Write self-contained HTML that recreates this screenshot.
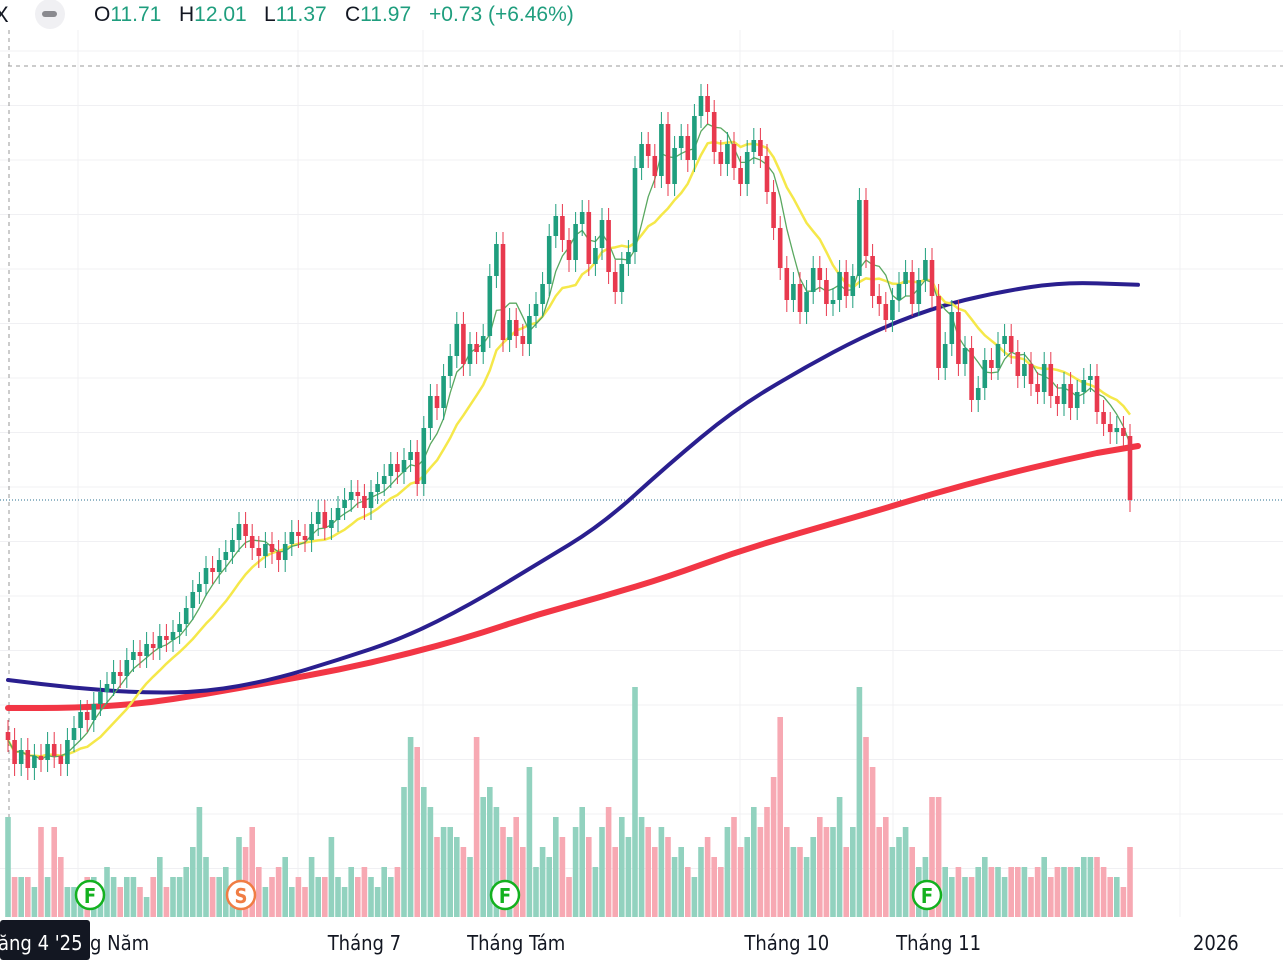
<!DOCTYPE html>
<html><head><meta charset="utf-8"><style>
html,body{margin:0;padding:0;background:#fff;}
#wrap{position:relative;width:1283px;height:976px;overflow:hidden;font-family:"Liberation Sans",sans-serif;}
svg{position:absolute;left:0;top:0;}
</style></head><body>
<div id="wrap">
<svg id="chart" width="1283" height="976"></svg>
</div>
<script>
const closes=[5.9,5.3,5.65,5.2,5.5,5.4,5.8,5.5,5.3,5.9,
6.2,6.6,6.4,6.8,7.1,7.3,7.6,7.5,7.9,8.1,
8.0,8.3,8.2,8.5,8.4,8.6,8.8,9.2,9.6,9.8,
10.2,10.1,10.4,10.6,10.9,11.3,11.0,10.7,10.5,10.8,
10.6,10.4,10.8,11.1,11.0,10.9,11.3,11.6,11.2,11.4,
11.7,11.9,12.1,12.0,11.7,12.1,12.3,12.5,12.8,12.6,
12.9,13.1,12.3,13.7,14.5,14.2,15.0,15.5,16.3,15.3,
15.8,15.6,16.0,17.5,18.3,15.9,16.4,16.0,15.8,16.5,
16.8,17.3,18.5,19.0,18.4,17.9,18.8,19.1,17.8,18.2,
18.9,17.6,17.1,17.8,18.1,20.2,20.8,20.5,20.0,21.3,
19.8,20.7,21.0,20.4,21.5,22.0,21.6,20.6,20.3,20.8,
20.2,19.8,20.6,20.9,20.5,19.6,18.7,17.7,16.9,17.3,
16.6,17.1,17.7,17.4,16.8,16.9,17.6,17.0,17.5,19.4,
18.0,17.0,16.8,16.4,16.9,17.3,17.6,16.8,17.4,17.9,
17.0,15.2,15.8,16.6,15.3,15.7,14.4,14.7,15.4,15.2,
15.8,16.0,15.6,15.0,15.3,14.8,14.6,15.3,14.5,14.3,
14.8,14.2,14.6,14.9,15.0,14.1,13.8,13.6,13.7,13.5,
11.9];
const volumes=[10,4,4,4,3,9,4,9,6,3,
3,3,4,4,3,5,4,3,4,4,
3,2,4,6,3,4,4,5,7,11,
6,4,4,5,3,8,7,9,5,3,
4,5,6,3,4,3,6,4,4,8,
4,3,5,4,5,4,3,5,4,5,
13,18,17,13,11,8,9,9,8,7,
6,18,12,13,11,9,8,10,7,15,
5,7,6,10,8,4,9,11,8,5,
9,11,7,10,8,23,10,9,7,9,
8,6,7,5,4,7,8,6,5,9,
10,7,8,11,9,11,14,20,9,7,
7,6,8,10,9,9,12,7,9,23,
18,15,9,10,7,8,9,7,5,6,
12,12,5,4,5,4,4,5,6,5,
5,4,5,5,5,4,5,6,4,5,
5,5,5,6,6,6,5,4,4,3,7];
// long moving averages sampled every 10 candles
const ma100=[7.4,7.2,7.08,7.1,7.4,7.9,8.45,9.28,10.28,11.28,12.78,14.15,15.15,16.03,16.7,17.1,17.35,17.28];
const ma200=[6.7,6.7,6.8,7.05,7.35,7.65,8.03,8.48,9.03,9.48,9.98,10.58,11.08,11.55,12.05,12.5,12.9,13.25];
const xLabels=["ăng 4 '25","g Năm","Tháng 7","Tháng Tám","Tháng 10","Tháng 11","2026"];
const xLabelIdx=[-2,14,54,77,118,141,183];

const NS="http://www.w3.org/2000/svg";
const svg=document.getElementById('chart');
const N=closes.length;
const x=i=>8+i*(1130-8)/(N-1);
const y=p=>976-40*p;
const vy=v=>917-v*10;
function el(t,a,parent){const e=document.createElementNS(NS,t);for(const k in a)e.setAttribute(k,a[k]);(parent||svg).appendChild(e);return e;}

// grid
for(let k=0;k<16;k++){const g=el('line',{x1:0,x2:1283,y1:51+54.5*k,y2:51+54.5*k,stroke:'#f0f0f3','stroke-width':1});

}
[78,298,423,740,893,1180].forEach(gx=>{const g=el('line',{x1:gx,x2:gx,y1:30,y2:917,stroke:'#f0f0f3'});

});
const hl=el('line',{x1:8,x2:1283,y1:66,y2:66,stroke:'#999','stroke-dasharray':'4 4'});


const vl=el('line',{x1:9,x2:9,y1:30,y2:917,stroke:'#999','stroke-dasharray':'4 4'});


const pl=el('line',{x1:0,x2:1283,y1:y(closes[N-1]),y2:y(closes[N-1]),stroke:'#2a6f8f','stroke-dasharray':'1 2'});



// volume
for(let i=0;i<N;i++){const o=i?closes[i-1]:closes[0];const up=closes[i]>=o;
const r=el('rect',{x:x(i)-2.8,y:vy(volumes[i]),width:5.6,height:917-vy(volumes[i]),fill:up?'#92d2bf':'#f7a9b3'});

}

// MAs
function sma(n){return closes.map((c,i)=>{const s=Math.max(0,i-n+1);let t=0;for(let j=s;j<=i;j++)t+=closes[j];return t/(i-s+1);});}
function line(vals,color,w,name){const d=vals.map((v,k)=>(k?'L':'M')+x(k)+','+y(v)).join(' ');
const p=el('path',{d:d,fill:'none',stroke:color,'stroke-width':w,'stroke-linejoin':'round'});

}
function smoothLine(vals,color,w,name){let d='M'+x(0)+','+y(vals[0]);
for(let k=1;k<vals.length;k++){const cx=(x((k-1)*10)+x(k*10))/2;d+=' Q'+x((k-1)*10)+','+y(vals[k-1])+' '+cx+','+(y(vals[k-1])+y(vals[k]))/2;}
d+=' L'+(x((vals.length-1)*10)+8)+','+y(vals[vals.length-1]);
const p=el('path',{d:d,fill:'none',stroke:color,'stroke-width':w,'stroke-linecap':'round'});

}
smoothLine(ma200,'#f23645',6,'ma200-line');
smoothLine(ma100,'#2a1f8f',4,'ma100-line');
line(sma(12),'#f5e84a',2.5,'ma20-line');
line(sma(5),'#5aa860',1.3,'ma5-line');

// candles
for(let i=0;i<N;i++){const o=i?closes[i-1]:closes[0]+0.2;const c=closes[i];const up=c>=o;const col=up?'#1f9e7e':'#e8394e';
const hi=Math.max(o,c)+0.3,lo=Math.min(o,c)-0.3;
const g=el('g',{});


el('line',{x1:x(i),x2:x(i),y1:y(hi),y2:y(lo),stroke:col,'stroke-width':1},g);
el('rect',{x:x(i)-2.3,y:y(Math.max(o,c)),width:4.6,height:Math.max(1,Math.abs(y(o)-y(c))),fill:col},g);}

// event markers
[[90,'F','#13b11f'],[241,'S','#f07d44'],[505,'F','#13b11f'],[927,'F','#13b11f']].forEach(m=>{
const g=el('g',{});


el('circle',{cx:m[0],cy:895,r:14,fill:'#fff',stroke:m[2],'stroke-width':2.5},g);
const t=el('text',{x:m[0],y:903,'text-anchor':'middle','font-size':20,'font-weight':'bold',fill:m[2],'font-family':'DejaVu Sans Condensed, Liberation Sans, sans-serif'},g);t.textContent=m[1];});

// x axis
el('rect',{x:0,y:917,width:1283,height:59,fill:'#fff'});
xLabels.forEach((s,k)=>{const t=el('text',{x:k===0?-2:x(xLabelIdx[k]),y:950,'text-anchor':k<2?'start':'middle','font-size':20,fill:k===0?'#fff':'#131722','font-family':'DejaVu Sans Condensed, Liberation Sans, sans-serif'});
if(k===0){const b=el('rect',{x:0,y:920,width:90,height:40,rx:3,fill:'#131722'});svg.appendChild(t);}
if(k===1)t.setAttribute('x',90);


t.textContent=s;});

// legend
const lg=el('g',{});


const xt=el('text',{x:-6,y:22,'font-size':22,fill:'#131722'},lg);xt.textContent='X';
const tg=el('g',{},lg);


el('circle',{cx:50,cy:14,r:15,fill:'#f0f0f3'},tg);
el('rect',{x:42,y:11,width:15,height:6,rx:3,fill:'#8a8a8f'},tg);
const parts=[['O','11.71',94],['H','12.01',179],['L','11.37',264],['C','11.97',345]];
parts.forEach(p=>{const t=el('text',{x:p[2],y:21,'font-size':21},lg);const a=el('tspan',{fill:'#131722'},t);a.textContent=p[0];const b=el('tspan',{fill:'#1f9e7e'},t);b.textContent=p[1];});
const ch=el('text',{x:429,y:21,'font-size':21,fill:'#1f9e7e'},lg);ch.textContent='+0.73 (+6.46%)';
</script>
</body></html>
